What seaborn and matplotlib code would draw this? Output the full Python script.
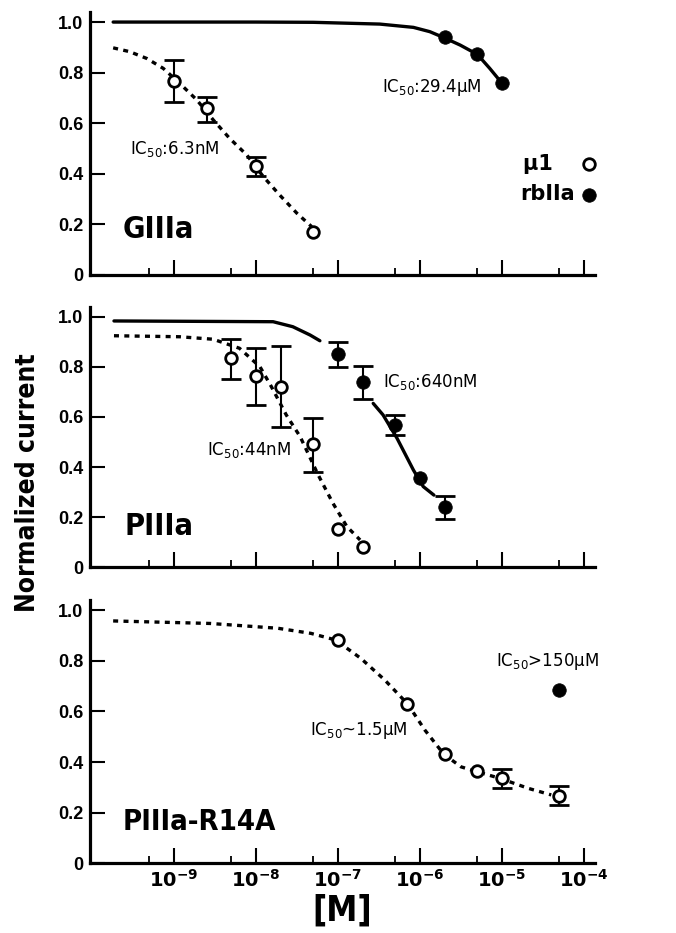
import numpy as np
import matplotlib
matplotlib.use("Agg")
import matplotlib.pyplot as plt
from matplotlib import font_manager
from matplotlib.ticker import FixedLocator, NullFormatter
import seaborn as sns

# ---- values ----
y_tick_values = [0, 0.2, 0.4, 0.6, 0.8, 1.0]
y_tick_labels = ["0", "0.2", "0.4", "0.6", "0.8", "1.0"]
x_major_ticks = [1e-9, 1e-8, 1e-7, 1e-6, 1e-5, 1e-4]
x_minor_ticks = [5e-10, 5e-9, 5e-8, 5e-7, 5e-6, 5e-5]

# GIIIa panel
giiia_mu1_conc = [1e-9, 2.5e-9, 1e-8, 5e-8]
giiia_mu1_resp = [0.767, 0.659, 0.431, 0.169]
giiia_mu1_err_lo = [0.082, 0.054, 0.040, 0.0]
giiia_mu1_err_hi = [0.083, 0.046, 0.035, 0.0]
giiia_rb_conc = [2e-6, 5e-6, 1e-5]
giiia_rb_resp = [0.940, 0.872, 0.758]
giiia_mu1_fit_logc = [-9.74, -9.54, -9.33, -9.13, -8.93, -8.72, -8.52, -8.32, -8.11, -7.91, -7.71, -7.50, -7.32]
giiia_mu1_fit_resp = [0.898, 0.883, 0.856, 0.817, 0.758, 0.692, 0.613, 0.540, 0.474, 0.389, 0.316, 0.244, 0.191]
giiia_rb_fit_logc = [-9.74, -8.0, -7.3, -6.49, -6.08, -5.88, -5.72, -5.51, -5.30, -5.15, -5.0]
giiia_rb_fit_resp = [1.0, 1.0, 0.999, 0.992, 0.979, 0.962, 0.940, 0.909, 0.872, 0.817, 0.758]

# PIIIa panel
piiia_mu1_conc = [5e-9, 1e-8, 2e-8, 5e-8, 1e-7, 2e-7]
piiia_mu1_resp = [0.834, 0.763, 0.720, 0.490, 0.152, 0.082]
piiia_mu1_err_lo = [0.084, 0.115, 0.159, 0.109, 0.0, 0.0]
piiia_mu1_err_hi = [0.076, 0.113, 0.163, 0.107, 0.0, 0.0]
piiia_rb_conc = [1e-7, 2e-7, 5e-7, 1e-6, 2e-6]
piiia_rb_resp = [0.850, 0.739, 0.568, 0.358, 0.239]
piiia_rb_err_lo = [0.050, 0.066, 0.039, 0.0, 0.048]
piiia_rb_err_hi = [0.048, 0.066, 0.039, 0.0, 0.047]
piiia_mu1_fit_logc = [-9.73, -8.93, -8.52, -8.20, -7.95, -7.81, -7.63, -7.46, -7.24, -7.06, -6.89, -6.73]
piiia_mu1_fit_resp = [0.924, 0.920, 0.910, 0.874, 0.800, 0.720, 0.608, 0.521, 0.368, 0.255, 0.162, 0.109]
piiia_rb_fit1_logc = [-9.73, -7.79, -7.55, -7.34, -7.22]
piiia_rb_fit1_resp = [0.983, 0.980, 0.960, 0.927, 0.904]
piiia_rb_fit2_logc = [-6.57, -6.45, -6.28, -6.08, -5.96, -5.83]
piiia_rb_fit2_resp = [0.654, 0.608, 0.515, 0.388, 0.322, 0.288]

# PIIIa-R14A panel
r14a_mu1_conc = [1e-7, 7e-7, 2e-6, 5e-6, 1e-5, 5e-5]
r14a_mu1_resp = [0.882, 0.629, 0.431, 0.364, 0.335, 0.266]
r14a_mu1_err_lo = [0.0, 0.0, 0.0, 0.0, 0.037, 0.036]
r14a_mu1_err_hi = [0.0, 0.0, 0.0, 0.0, 0.036, 0.040]
r14a_rb_conc = [5e-5]
r14a_rb_resp = [0.684]
r14a_mu1_fit_logc = [-9.74, -8.55, -7.73, -7.33, -7.03, -6.72, -6.43, -6.15, -5.94, -5.71, -5.50, -5.33, -5.02, -4.68, -4.40]
r14a_mu1_fit_resp = [0.957, 0.947, 0.928, 0.908, 0.882, 0.809, 0.724, 0.629, 0.526, 0.431, 0.381, 0.364, 0.335, 0.296, 0.270]

sns.set_style("ticks")
avail = {f.name for f in font_manager.fontManager.ttflist}
HELV = "Liberation Sans" if "Liberation Sans" in avail else "DejaVu Sans"
plt.rcParams["font.family"] = ["DejaVu Sans"]
plt.rcParams["font.weight"] = "bold"
for key in ("text.color", "axes.labelcolor", "xtick.color", "ytick.color", "axes.edgecolor"):
    plt.rcParams[key] = "black"

# look for a condensed / narrow bold face, the original uses one
narrow = [f for f in font_manager.fontManager.ttflist
          if ("Condensed" in f.fname or "Narrow" in f.fname) and "Bold" in f.fname
          and "Oblique" not in f.fname and "Italic" not in f.fname]
if narrow:
    COND = dict(fontproperties=font_manager.FontProperties(fname=narrow[0].fname))
    shrink = 1.0
else:
    COND = dict(family="DejaVu Sans", fontweight="bold")
    shrink = 0.9


def cond(size):
    d = dict(COND)
    if "fontproperties" in d:
        fp = d["fontproperties"].copy()
        fp.set_size(size)
        d["fontproperties"] = fp
    else:
        d["fontsize"] = size * shrink
    return d


fig = plt.figure(figsize=(6.76, 9.33), dpi=100)
ax_w = 505 / 676
ax_l = 90 / 676
axes = [
    fig.add_axes([ax_l, 0.7053, ax_w, 0.2819]),
    fig.add_axes([ax_l, 0.3920, ax_w, 0.2793]),
    fig.add_axes([ax_l, 0.0747, ax_w, 0.2823]),
]

DOT = (0, (1.5, 1.6))


def fit_line(ax, logc, resp, ls):
    sns.lineplot(x=10 ** np.array(logc), y=resp, ax=ax, color="black",
                 linewidth=2.4, linestyle=ls, sort=False, estimator=None, zorder=2)


def errbars(ax, conc, resp, lo, hi):
    conc, resp, lo, hi = map(np.array, (conc, resp, lo, hi))
    m = (lo + hi) > 0
    ax.errorbar(conc[m], resp[m], yerr=[lo[m], hi[m]], fmt="none", ecolor="black",
                elinewidth=1.5, capsize=7, capthick=2, zorder=3)


def open_pts(ax, conc, resp, label=None):
    sns.scatterplot(x=conc, y=resp, ax=ax, marker="o", s=70, color="white",
                    edgecolor="black", linewidth=2, zorder=5, label=label)


def filled_pts(ax, conc, resp, label=None):
    sns.scatterplot(x=conc, y=resp, ax=ax, marker="o", s=95, color="black",
                    edgecolor="black", linewidth=0.5, zorder=5, label=label)


IC = "IC$_{\\mathregular{50}}$"
ic_kw = dict(fontsize=12, va="center", fontweight="normal")

# GIIIa
ax = axes[0]
fit_line(ax, giiia_mu1_fit_logc, giiia_mu1_fit_resp, DOT)
fit_line(ax, giiia_rb_fit_logc, giiia_rb_fit_resp, "-")
errbars(ax, giiia_mu1_conc, giiia_mu1_resp, giiia_mu1_err_lo, giiia_mu1_err_hi)
open_pts(ax, giiia_mu1_conc, giiia_mu1_resp, label="\u03bc1\u00a0\u00a0\u00a0")
filled_pts(ax, giiia_rb_conc, giiia_rb_resp, label="rbIIa")
ax.text(2.9e-10, 0.50, IC + ":6.3nM", **ic_kw)
ax.text(3.44e-7, 0.743, IC + ":29.4\u03bcM", **ic_kw)
ax.text(2.4e-10, 0.178, "GIIIa", va="center", **cond(22))
leg = ax.legend(loc="center left", bbox_to_anchor=(0.835, 0.365), frameon=False, markerfirst=False,
                handlelength=0.8, handletextpad=0.3, labelspacing=0.5, borderaxespad=0,
                prop={"size": 15, "weight": "bold"})

# PIIIa
ax = axes[1]
fit_line(ax, piiia_mu1_fit_logc, piiia_mu1_fit_resp, DOT)
fit_line(ax, piiia_rb_fit1_logc, piiia_rb_fit1_resp, "-")
fit_line(ax, piiia_rb_fit2_logc, piiia_rb_fit2_resp, "-")
errbars(ax, piiia_mu1_conc, piiia_mu1_resp, piiia_mu1_err_lo, piiia_mu1_err_hi)
errbars(ax, piiia_rb_conc, piiia_rb_resp, piiia_rb_err_lo, piiia_rb_err_hi)
open_pts(ax, piiia_mu1_conc, piiia_mu1_resp)
filled_pts(ax, piiia_rb_conc, piiia_rb_resp)
ax.text(3.54e-7, 0.741, IC + ":640nM", **ic_kw)
ax.text(2.5e-9, 0.468, IC + ":44nM", **ic_kw)
ax.text(2.5e-10, 0.162, "PIIIa", va="center", **cond(22))

# PIIIa-R14A
ax = axes[2]
fit_line(ax, r14a_mu1_fit_logc, r14a_mu1_fit_resp, DOT)
errbars(ax, r14a_mu1_conc, r14a_mu1_resp, r14a_mu1_err_lo, r14a_mu1_err_hi)
open_pts(ax, r14a_mu1_conc, r14a_mu1_resp)
filled_pts(ax, r14a_rb_conc, r14a_rb_resp)
ax.text(8.45e-6, 0.796, IC + ">150\u03bcM", **ic_kw)
ax.text(4.56e-8, 0.526, IC + "~1.5\u03bcM", **ic_kw)
ax.text(2.4e-10, 0.164, "PIIIa-R14A", va="center", **cond(21))
ax.set_xlabel("[M]", labelpad=2, **cond(25))

for i, ax in enumerate(axes):
    ax.set_xscale("log")
    ax.set_xlim(9.5e-11, 1.36e-4)
    ax.set_ylim(0, 1.04)
    ax.xaxis.set_major_locator(FixedLocator(x_major_ticks))
    ax.xaxis.set_minor_locator(FixedLocator(x_minor_ticks))
    ax.xaxis.set_minor_formatter(NullFormatter())
    ax.set_yticks(y_tick_values)
    ax.set_yticklabels(y_tick_labels, fontsize=13, fontweight="bold", family=HELV)
    ax.tick_params(axis="y", direction="in", length=11, width=1.5, pad=5)
    ax.tick_params(axis="x", which="major", direction="in", length=11, width=1.5, labelsize=14, pad=4)
    ax.tick_params(axis="x", which="minor", direction="in", length=5, width=1.3)
    if i < 2:
        ax.tick_params(axis="x", labelbottom=False)
        ax.set_xlabel("")
    ax.set_ylabel("")
    for side in ("top", "right"):
        ax.spines[side].set_visible(False)
    for side in ("left", "bottom"):
        ax.spines[side].set_linewidth(2.3)

fig.text(0.042, 0.483, "Normalized current", rotation=90, ha="center", va="center", **cond(19))

fig.savefig("out.png", dpi=100)
